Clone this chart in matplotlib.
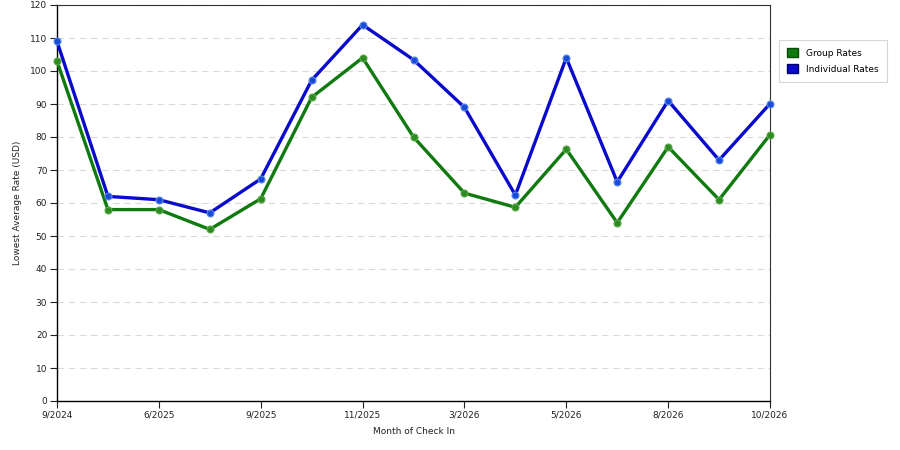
import matplotlib
matplotlib.use("Agg")
import matplotlib.pyplot as plt
from matplotlib.patches import Patch

# month of check in (only every other label is shown on the axis)
months = ["9/2024", "5/2025", "6/2025", "8/2025", "9/2025", "10/2025", "11/2025",
          "12/2025", "3/2026", "4/2026", "5/2026", "7/2026", "8/2026", "9/2026", "10/2026"]
group_rates = [103, 58, 58, 52, 61.3, 92, 104, 80, 63, 58.7, 76.3, 54, 77, 61, 80.7]
individual_rates = [109, 62, 61, 57, 67.3, 97.2, 114, 103.4, 89, 62.4, 104, 66.4, 91, 73, 90.1]

green = "#107a10"
blue = "#0a0acc"

fig = plt.figure(figsize=(9, 4.5), dpi=100)
ax = fig.add_axes([57 / 900, 1 - 401 / 450, 713 / 900, 396 / 450])

x = list(range(len(months)))
ax.plot(x, group_rates, color=green, linewidth=2.4, zorder=3, clip_on=False,
        marker="o", markersize=5, markerfacecolor="#2e8b22", markeredgecolor="#5aa84a",
        markeredgewidth=0.8)
ax.plot(x, individual_rates, color=blue, linewidth=2.4, zorder=4, clip_on=False,
        marker="o", markersize=5, markerfacecolor="#1a4ad8", markeredgecolor="#5a8ae8",
        markeredgewidth=0.8)

ax.set_xlim(0, len(months) - 1)
ax.set_ylim(0, 120)
ax.set_yticks(range(0, 121, 10))
ax.set_xticks(x[::2])
ax.set_xticklabels(months[::2])
ax.tick_params(axis="both", direction="out", length=5, width=0.8, labelsize=6.5,
               colors="#222222", pad=2)

ax.yaxis.grid(True, linestyle=(0, (6, 4)), color="#dadada", linewidth=0.8)
ax.set_axisbelow(True)
for side in ["left", "bottom"]:
    ax.spines[side].set_color("#000000")
    ax.spines[side].set_linewidth(1.0)
for side in ["top", "right"]:
    ax.spines[side].set_color("#333333")
    ax.spines[side].set_linewidth(0.8)

ax.set_xlabel("Month of Check In", fontsize=6.5, color="#222222", labelpad=5)
ax.set_ylabel("Lowest Average Rate (USD)", fontsize=6.5, color="#222222", labelpad=6)

handles = [Patch(facecolor=green, edgecolor="#0a4a0a", label="Group Rates"),
           Patch(facecolor=blue, edgecolor="#00006a", label="Individual Rates")]
leg = fig.legend(handles=handles, loc="upper left", bbox_to_anchor=(779 / 900, 1 - 40 / 450),
                 borderaxespad=0, fontsize=6.5, frameon=True, fancybox=False,
                 handlelength=1.2, handleheight=1.2, handletextpad=0.9, borderpad=0.9,
                 labelspacing=0.7)
leg.get_frame().set_edgecolor("#cccccc")
leg.get_frame().set_linewidth(0.8)

fig.savefig("out.png", dpi=100)
